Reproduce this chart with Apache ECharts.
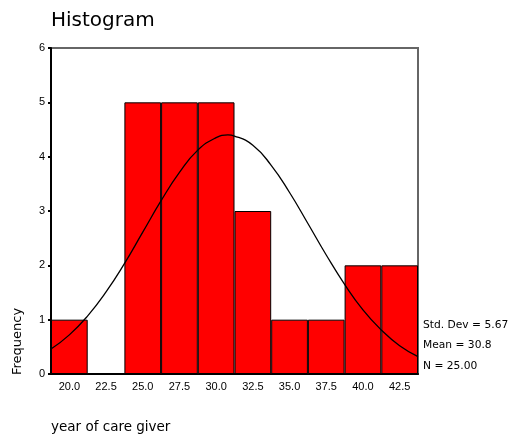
<!DOCTYPE html>
<html>
<head>
<meta charset="utf-8">
<script src="https://cdn.jsdelivr.net/npm/echarts@6/dist/echarts.min.js"></script>
<style>html,body{margin:0;padding:0;background:#fff}#c{width:510px;height:439px}</style>
</head>
<body>
<div id="c"></div>
<script>
// Bin centres (year of care giver) and frequencies
var categories = ['20.0', '22.5', '25.0', '27.5', '30.0', '32.5', '35.0', '37.5', '40.0', '42.5'];
var frequencies = [1, 0, 5, 5, 5, 3, 1, 1, 2, 2];
// Normal curve (x, frequency)
var curveX = [18.75, 20, 21.25, 22.5, 23.75, 25, 26.25, 27.5, 28.75, 30, 30.8, 31.25, 32.5, 33.75, 35, 36.25, 37.5, 38.75, 40, 41.25, 42.5, 43.75];
var curveY = [0.46, 0.72, 1.07, 1.51, 2.03, 2.61, 3.19, 3.71, 4.12, 4.35, 4.40, 4.38, 4.21, 3.84, 3.34, 2.77, 2.19, 1.65, 1.18, 0.81, 0.52, 0.32];
var yTicks = [0, 1, 2, 3, 4, 5, 6];
var statsLines = ['Std. Dev = 5.67', 'Mean = 30.8', 'N = 25.00'];
var titleText = 'Histogram';
var xName = 'year of care giver';
var yName = 'Frequency';

var curve = curveX.map(function (x, i) { return [x, curveY[i]]; });
var barData = frequencies.map(function (v) {
  return v === 0 ? {value: v, itemStyle: {borderWidth: 0}} : v;
});

var chart = echarts.init(document.getElementById('c'), null, {renderer: 'canvas'});
var tickFont = {fontFamily: '"Liberation Sans", Arial, sans-serif', fontSize: 11, color: '#000'};
var option = {
  animation: false,
  backgroundColor: '#fff',
  title: {
    text: titleText, left: 46, top: 6,
    textStyle: {fontFamily: '"DejaVu Sans", Verdana, sans-serif', fontSize: 20, fontWeight: 'normal', color: '#000'}
  },
  grid: {left: 51, top: 48, right: 92, bottom: 65, show: true, borderColor: '#666', borderWidth: 2, backgroundColor: 'transparent'},
  xAxis: [{
    type: 'category', data: categories, boundaryGap: true, position: 'bottom',
    axisLine: {lineStyle: {color: '#000', width: 2}},
    axisTick: {alignWithLabel: true, length: 3, lineStyle: {color: '#000', width: 2}},
    axisLabel: Object.assign({margin: 7}, tickFont),
    splitLine: {show: false}
  }, {
    type: 'value', min: 18.75, max: 43.75, show: false
  }],
  yAxis: {
    type: 'value', min: 0, max: 6, interval: 1,
    axisLine: {show: true, lineStyle: {color: '#000', width: 2}},
    axisTick: {show: true, length: 3, lineStyle: {color: '#000', width: 2}},
    axisLabel: Object.assign({margin: 6, formatter: function (v) { return yTicks.indexOf(v) >= 0 ? String(v) : ''; }}, tickFont),
    splitLine: {show: false}
  },
  series: [{
    type: 'bar', data: barData, xAxisIndex: 0, barCategoryGap: '0%', barWidth: '100%',
    itemStyle: {color: '#ff0000', borderColor: '#000', borderWidth: 1}
  }, {
    type: 'line', data: curve, xAxisIndex: 1, smooth: true, showSymbol: false, symbol: 'none',
    lineStyle: {color: '#000', width: 1.3}, z: 5
  }],
  graphic: [
    {type: 'text', x: 18, y: 375, rotation: Math.PI / 2,
     style: {text: yName, fill: '#000', font: '13px "DejaVu Sans", Verdana, sans-serif', textAlign: 'left', textVerticalAlign: 'middle'}},
    {type: 'text', x: 51, y: 427,
     style: {text: xName, fill: '#000', font: '13.5px "DejaVu Sans", Verdana, sans-serif', textAlign: 'left', textVerticalAlign: 'middle'}}
  ].concat(statsLines.map(function (s, i) {
    return {type: 'text', x: 423, y: 325 + i * 20.5,
      style: {text: s, fill: '#000', font: '10.7px "DejaVu Sans", Verdana, sans-serif', textAlign: 'left', textVerticalAlign: 'middle'}};
  }))
};
chart.setOption(option);
</script>
</body>
</html>
